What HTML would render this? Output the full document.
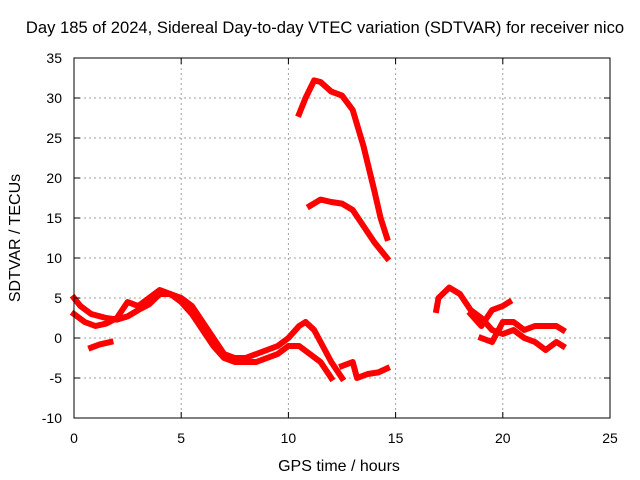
<!DOCTYPE html>
<html><head><meta charset="utf-8"><style>
body{margin:0;background:#fff;}
svg{display:block;font-family:"Liberation Sans",sans-serif;}
</style></head><body>
<svg id="chart" width="640" height="480">
<rect width="640" height="480" fill="#fff"/>
<text x="325" y="33" font-size="16.6" text-anchor="middle">Day 185 of 2024, Sidereal Day-to-day VTEC variation (SDTVAR) for receiver nico</text>
<g id="grid"></g>
<g id="series"></g>
<rect x="74" y="58" width="536" height="360" fill="none" stroke="#000" stroke-width="1"/>
<g id="ticks"></g>
<text x="339" y="471" font-size="16" text-anchor="middle">GPS time / hours</text>
<text transform="translate(20,238) rotate(-90)" font-size="16" text-anchor="middle">SDTVAR / TECUs</text>
</svg>
<script>
const xTicks=[0,5,10,15,20,25];
const yTicks=[-10,-5,0,5,10,15,20,25,30,35];
const upperArcX=[10.5,10.8,11.2,11.5,12,12.5,13,13.5,14,14.3,14.6];
const upperArcY=[28,30,32.2,32,30.8,30.3,28.5,24,18.5,15,12.5];
const lowerArcX=[11,11.5,12,12.5,13,13.5,14,14.6];
const lowerArcY=[16.5,17.3,17,16.8,16,14,12,10];
const morningAX=[0,0.3,0.8,1.5,2,2.5,3,3.5,4,4.5,5,5.5,6,6.5,7,7.5,8,8.5,9,9.5,10,10.5,10.8,11.2,11.5,12,12.5];
const morningAY=[5,4,3,2.5,2.3,2.7,3.5,4.2,5.5,5.5,5,4,2,0,-2,-2.5,-2.5,-2,-1.5,-1,0,1.5,2,1,-0.5,-3,-5];
const morningBX=[0,0.5,1,1.5,2,2.5,3,3.5,4,4.5,5,5.5,6,6.5,7,7.5,8,8.5,9,9.5,10,10.5,11,11.5,12];
const morningBY=[3,2,1.5,1.8,2.5,4.5,4,5,6,5.5,4.5,3,1,-1,-2.5,-3,-3,-3,-2.5,-2,-1,-1,-2,-3,-5];
const smallX=[0.8,1.2,1.7];
const smallY=[-1.2,-0.8,-0.5];
const noonX=[12.5,13,13.2,13.7,14.2,14.6];
const noonY=[-3.5,-3,-5,-4.5,-4.3,-3.8];
const eveAX=[16.9,17,17.5,18,18.5,19,19.5,20,20.5,21,21.5,22,22.5,22.8];
const eveAY=[3.5,5,6.3,5.5,3.5,2.5,1,0.5,1,0,-0.5,-1.5,-0.5,-1];
const eveBX=[18.5,19,19.5,20,20.3];
const eveBY=[3,1.5,3.5,4,4.5];
const eveCX=[19,19.5,20,20.5,21,21.5,22,22.5,22.8];
const eveCY=[0,-0.5,2,2,1,1.5,1.5,1.5,1];
const seriesList=[[upperArcX,upperArcY],[lowerArcX,lowerArcY],[morningAX,morningAY],[morningBX,morningBY],[smallX,smallY],[noonX,noonY],[eveAX,eveAY],[eveBX,eveBY],[eveCX,eveCY]];

const NS="http://www.w3.org/2000/svg";
function sx(v){return 74+(v-0)*536/25;}
function sy(v){return 418-(v+10)*360/45;}
const grid=document.getElementById('grid'),ticks=document.getElementById('ticks'),ser=document.getElementById('series');
function mk(tag,attrs,parent){const e=document.createElementNS(NS,tag);for(const k in attrs)e.setAttribute(k,attrs[k]);parent.appendChild(e);return e;}
xTicks.forEach(t=>{
  const x=sx(t);
  if(t>0&&t<25){const g=mk('line',{x1:x,x2:x,y1:58,y2:418,stroke:'#a0a0a0','stroke-dasharray':'2,3'},grid);
  
  }
  const l=mk('text',{x:x,y:443,'font-size':14,'text-anchor':'middle'},ticks);l.textContent=t;
  
  
  mk('line',{x1:x,x2:x,y1:418,y2:412,stroke:'#000'},ticks);
  mk('line',{x1:x,x2:x,y1:58,y2:64,stroke:'#000'},ticks);
});
yTicks.forEach(t=>{
  const y=sy(t);
  if(t>-10&&t<35){const g=mk('line',{x1:74,x2:610,y1:y,y2:y,stroke:'#a0a0a0','stroke-dasharray':'2,3'},grid);
  
  }
  const l=mk('text',{x:62,y:y+5,'font-size':14,'text-anchor':'end'},ticks);l.textContent=t;
  
  
  mk('line',{x1:74,x2:80,y1:y,y2:y,stroke:'#000'},ticks);
  mk('line',{x1:610,x2:604,y1:y,y2:y,stroke:'#000'},ticks);
});
seriesList.forEach((s,i)=>{
  const pts=s[0].map((x,j)=>sx(x)+','+sy(s[1][j])).join(' ');
  const p=mk('polyline',{points:pts,fill:'none',stroke:'#ff0000','stroke-width':6,'stroke-linejoin':'round','stroke-linecap':'square'},ser);
  
  
});
</script>
</body></html>
